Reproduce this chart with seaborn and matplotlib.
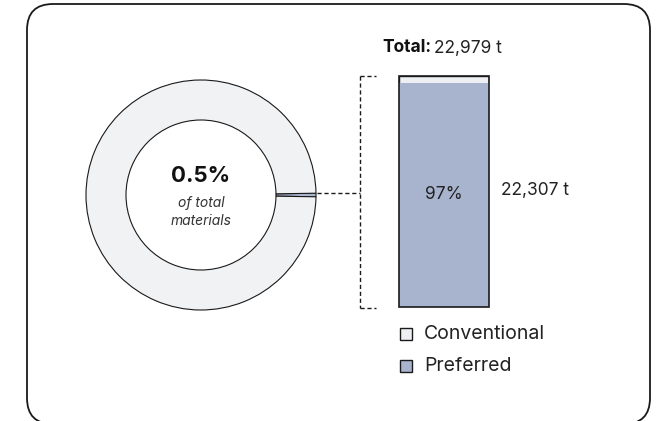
import matplotlib
matplotlib.use("Agg")
import matplotlib.pyplot as plt
import seaborn as sns
import pandas as pd
from matplotlib.patches import FancyBboxPatch, Rectangle

sns.set_theme(style="white")
plt.rcParams['font.family'] = ['Inter', 'DejaVu Sans']

# ---- data ----
categories = ["Conventional", "Preferred"]
bar_values = [672, 22307]          # tonnes
total_t = 22979
preferred_pct = 97
donut_share = [0.5, 99.5]          # % of total materials (preferred slice, rest)

col_conv = "#EEEFF3"
col_pref = "#A8B4CE"
col_ring = "#F1F2F4"
edge = "#1a1a1a"

W, H = 657, 421
fig = plt.figure(figsize=(W / 100, H / 100), dpi=100)

def fx(x): return x / W
def fy(y): return 1 - y / H

# background overlay axes in pixel coords
bg = fig.add_axes([0, 0, 1, 1])
bg.set_xlim(0, W); bg.set_ylim(H, 0); bg.axis("off")
frame = FancyBboxPatch((27, 4), 623, 420, boxstyle="round,pad=0,rounding_size=26",
                       fc="white", ec=edge, lw=1.3)
bg.add_patch(frame)

# ---- donut ----
cx, cy, R = 201, 195, 115
half = 122
ax_d = fig.add_axes([fx(cx - half), fy(cy + half), 2 * half / W, 2 * half / H])
ax_d.pie(donut_share, startangle=-donut_share[0] / 100 * 360 / 2, counterclock=True,
         colors=[col_pref, col_ring], radius=1,
         wedgeprops=dict(width=1 - 75 / R, edgecolor=edge, linewidth=0.8))
lim = half / R
ax_d.set_xlim(-lim, lim); ax_d.set_ylim(-lim, lim)
ax_d.set_aspect("auto")
ax_d.axis("off")

bg.text(cx, 176, f"{donut_share[0]}%", ha="center", va="center", fontsize=16,
        fontweight="bold", color="#111111")
bg.text(cx, 203, "of total", ha="center", va="center", fontsize=10,
        style="italic", color="#333333")
bg.text(cx, 221, "materials", ha="center", va="center", fontsize=10,
        style="italic", color="#333333")

# ---- connector dashed lines ----
dash = dict(color=edge, lw=1.0, ls=(0, (3, 2)))
bg.plot([cx + R + 1, 360], [193, 193], **dash)
bg.plot([360, 360], [76, 308], **dash)
bg.plot([360, 376], [76, 76], **dash)
bg.plot([360, 376], [308, 308], **dash)

# ---- stacked bar ----
bx0, bx1, by0, by1 = 399, 489, 76, 307
ax_b = fig.add_axes([fx(bx0), fy(by1), (bx1 - bx0) / W, (by1 - by0) / H])
df = pd.DataFrame({"cat": ["Materials"], "total": [sum(bar_values)],
                   "pref": [bar_values[1]]})
sns.barplot(data=df, x="cat", y="total", color=col_conv, width=1.0,
            edgecolor=edge, linewidth=1.0, ax=ax_b, saturation=1)
sns.barplot(data=df, x="cat", y="pref", color=col_pref, width=1.0,
            linewidth=0, ax=ax_b, saturation=1)
ax_b.set_xlim(-0.5, 0.5)
ax_b.set_ylim(0, sum(bar_values))
ax_b.axis("off")
# redraw outline on top
ax_b.add_patch(Rectangle((-0.5, 0), 1, sum(bar_values), fill=False, ec=edge, lw=1.2,
                         clip_on=False))

ax_b.text(0, bar_values[1] / 2, f"{preferred_pct}%", ha="center", va="center",
          fontsize=12.5, color="#222222")
bg.text(501, 190, f"{bar_values[1]:,} t", ha="left", va="center", fontsize=12.5,
        color="#222222")

t1 = bg.text(382, 48, "Total:", ha="left", va="center", fontsize=12.5,
             fontweight="bold", color="#111111")
fig.canvas.draw()
bb = t1.get_window_extent()
x_end = bb.x1 * W / (fig.get_figwidth() * fig.dpi)
bg.text(x_end + 3, 48, f"{total_t:,} t", ha="left", va="center", fontsize=12.5,
        color="#222222")

# ---- legend ----
for (lbl, col), yy in zip(zip(categories, [col_conv, col_pref]), [334, 366]):
    bg.add_patch(Rectangle((400, yy - 6), 12, 12, fc=col, ec=edge, lw=1.0))
    bg.text(424, yy, lbl, ha="left", va="center", fontsize=14, color="#222222")

fig.savefig("out.png", dpi=100)
